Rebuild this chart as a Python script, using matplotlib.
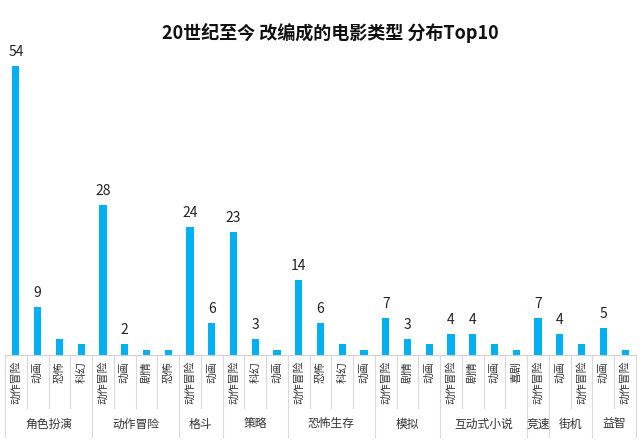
import matplotlib.pyplot as plt
import matplotlib.transforms as mtransforms

plt.rcParams['font.family'] = ['Noto Sans CJK SC', 'DejaVu Sans']

# game genres (outer level) and the film genres inside each
groups = ["角色扮演", "动作冒险", "格斗", "策略", "恐怖生存", "模拟", "互动式小说", "竞速", "街机", "益智"]
group_sizes = [4, 4, 2, 3, 4, 3, 4, 1, 2, 2]
categories = ["动作冒险", "动画", "恐怖", "科幻",
              "动作冒险", "动画", "剧情", "恐怖",
              "动作冒险", "动画",
              "动作冒险", "科幻", "动画",
              "动作冒险", "恐怖", "科幻", "动画",
              "动作冒险", "剧情", "动画",
              "动作冒险", "剧情", "动画", "喜剧",
              "动作冒险",
              "动画", "动作冒险",
              "动画", "动作冒险"]
values = [54, 9, 3, 2,
          28, 2, 1, 1,
          24, 6,
          23, 3, 1,
          14, 6, 2, 1,
          7, 3, 2,
          4, 4, 2, 1,
          7,
          4, 2,
          5, 1]
# only some bars carry a data label in the original
show_label = [1, 1, 0, 0,
              1, 1, 0, 0,
              1, 1,
              1, 1, 0,
              1, 1, 0, 0,
              1, 1, 0,
              1, 1, 0, 0,
              1,
              1, 0,
              1, 0]

fig = plt.figure(figsize=(6.4, 4.41), dpi=100)
W, H = 640, 441
left, right, top, base = 5, 636, 60, 355
ax = fig.add_axes([left / W, 1 - base / H, (right - left) / W, (base - top) / H])

x = list(range(len(values)))
ax.bar(x, values, width=0.33, color='#00B0F0')
ax.set_xlim(-0.5, len(values) - 0.5)
ax.set_ylim(0, 55.1)

for xi, v, s in zip(x, values, show_label):
    if s:
        ax.annotate(str(v), (xi, v), xytext=(0, 5), textcoords='offset points',
                    ha='center', va='bottom', fontsize=10, color='#222222')

for sp in ['top', 'right', 'left']:
    ax.spines[sp].set_visible(False)
ax.spines['bottom'].set_color('#d0d0d0')
ax.set_yticks([])
ax.set_xticks([])

trans = mtransforms.blended_transform_factory(ax.transData, fig.transFigure)
y_base = 1 - base / H
y_short = 1 - 408 / H
y_long = 1 - 437 / H
y_cat = 1 - 361 / H
y_grp = 1 - 424 / H

for xi, c in zip(x, categories):
    ax.text(xi, y_cat, c, transform=trans, rotation=90, ha='center', va='top',
            fontsize=7.8, color='#333333')

start = 0
edges = [-0.5]
for g, n in zip(groups, group_sizes):
    end = start + n
    mid = (start + end - 1) / 2
    ax.text(mid, y_grp, g, transform=trans, ha='center', va='center',
            fontsize=8.5, color='#333333')
    for k in range(start + 1, end):
        ax.plot([k - 0.5, k - 0.5], [y_base, y_short], transform=trans,
                color='#d9d9d9', lw=0.8, clip_on=False)
    edges.append(end - 0.5)
    start = end

for e in edges:
    ax.plot([e, e], [y_base, y_long], transform=trans,
            color='#d9d9d9', lw=0.8, clip_on=False)

fig.text(330 / W, 1 - 33 / H, "20世纪至今 改编成的电影类型 分布Top10",
         ha='center', va='center', fontsize=13, fontweight='bold', color='#111111')

fig.savefig('out.png', dpi=100)
